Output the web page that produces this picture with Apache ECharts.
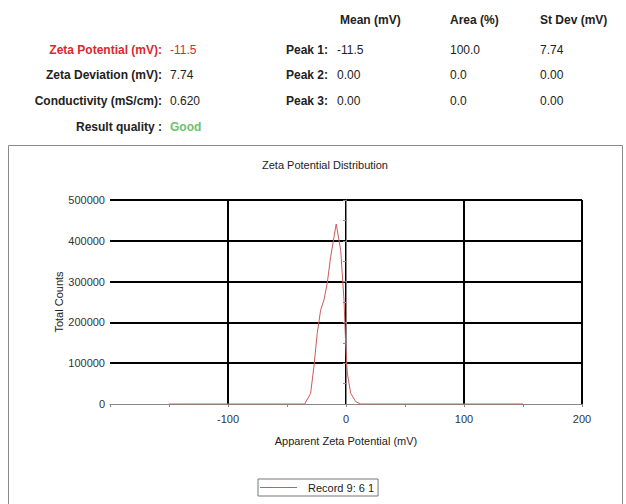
<!DOCTYPE html>
<html>
<head>
<meta charset="utf-8">
<script src="https://cdn.jsdelivr.net/npm/echarts@6/dist/echarts.min.js"></script>
<style>
html,body{margin:0;padding:0;background:#fff;}
#main{width:626px;height:504px;}
</style>
</head>
<body>
<div id="main"></div>
<script>
// Data
const zetaX = [-150, -35, -30, -27.2, -24.4, -21.5, -18.7, -15.9, -13.0, -8.3, -4.5, -1.7, -0.3, 1.1, 4.0, 8.3, 12.5, 150];
const counts = [0, 0, 26000, 91000, 173000, 230000, 255000, 296000, 361000, 441000, 377000, 255000, 149000, 76000, 26000, 5600, 0, 0];
const seriesName = 'Record 9: 6 1';

const headerCols = ['Mean (mV)', 'Area (%)', 'St Dev (mV)'];
const leftLabels = ['Zeta Potential (mV):', 'Zeta Deviation (mV):', 'Conductivity (mS/cm):', 'Result quality :'];
const leftValues = ['-11.5', '7.74', '0.620', 'Good'];
const peakLabels = ['Peak 1:', 'Peak 2:', 'Peak 3:'];
const peakMean = ['-11.5', '0.00', '0.00'];
const peakArea = ['100.0', '0.0', '0.0'];
const peakStd = ['7.74', '0.00', '0.00'];

const FONT = '"Liberation Sans", Arial, sans-serif';
const rowsY = [50, 75, 101, 127];
const g = [];
function txt(x, y, s, opts) {
  g.push({type: 'text', x: x, y: y, style: Object.assign({
    text: s, font: (opts && opts.bold ? 'bold ' : '') + '12px ' + FONT,
    fill: '#222', textAlign: 'left', textVerticalAlign: 'middle'
  }, opts && opts.style || {})});
}
const colX = [340, 450, 540];
headerCols.forEach((s, i) => txt(colX[i], 20, s, {bold: true}));
leftLabels.forEach((s, i) => txt(162, rowsY[i], s, {bold: true, style: {textAlign: 'right', fill: i === 0 ? '#d9282f' : '#222'}}));
leftValues.forEach((s, i) => txt(170, rowsY[i], s, {bold: i === 3, style: {fill: i === 0 ? '#d9282f' : (i === 3 ? '#6cc36a' : '#222')}}));
peakLabels.forEach((s, i) => txt(328, rowsY[i], s, {bold: true, style: {textAlign: 'right'}}));
peakMean.forEach((s, i) => txt(337, rowsY[i], s, {}));
peakArea.forEach((s, i) => txt(450, rowsY[i], s, {}));
peakStd.forEach((s, i) => txt(540, rowsY[i], s, {}));
g.push({type: 'rect', shape: {x: 8.5, y: 145.5, width: 614, height: 380}, style: {fill: null, stroke: '#8a8a8a', lineWidth: 1}, z: -1});

const chart = echarts.init(document.getElementById('main'), null, {renderer: 'svg'});
chart.setOption({
  animation: false,
  backgroundColor: '#fff',
  title: {
    text: 'Zeta Potential Distribution', left: 320, top: 154, textAlign: 'center',
    textStyle: {fontFamily: FONT, fontSize: 11, fontWeight: 'normal', color: '#222'}
  },
  graphic: g,
  grid: {left: 110, right: 44, top: 200, bottom: 100},
  legend: {
    left: 258, top: 479, data: [seriesName],
    borderColor: '#777', borderWidth: 1, padding: [3, 4, 3, 2],
    itemWidth: 37, itemHeight: 1, icon: 'rect',
    textStyle: {fontFamily: FONT, fontSize: 11, color: '#222', padding: [0, 0, 0, 6]}
  },
  xAxis: {
    type: 'value', min: -200, max: 200, interval: 100,
    name: 'Apparent Zeta Potential (mV)', nameLocation: 'middle', nameGap: 31,
    nameTextStyle: {fontFamily: FONT, fontSize: 11, color: '#222'},
    axisLine: {show: true, lineStyle: {color: '#888', width: 1}},
    axisTick: {show: true, length: 3, lineStyle: {color: '#888'}},
    minorTick: {show: true, splitNumber: 2, length: 3, lineStyle: {color: '#888'}},
    axisLabel: {fontFamily: FONT, fontSize: 11, color: '#333', margin: 9, showMinLabel: false},
    splitLine: {show: true, showMinLine: false, lineStyle: {color: '#000', width: 2}}
  },
  yAxis: {
    type: 'value', min: 0, max: 500000, interval: 100000,
    name: 'Total Counts', nameLocation: 'middle', nameGap: 46, nameRotate: 90,
    nameMoveOverlap: false,
    nameTextStyle: {fontFamily: FONT, fontSize: 11, color: '#222'},
    axisLine: {show: true, lineStyle: {color: '#888', width: 1}},
    axisTick: {show: true, length: 3, lineStyle: {color: '#888'}},
    minorTick: {show: true, splitNumber: 2, length: 3, lineStyle: {color: '#888'}},
    axisLabel: {fontFamily: FONT, fontSize: 11, color: '#333', margin: 5, formatter: v => String(v)},
    splitLine: {show: true, showMinLine: false, lineStyle: {color: '#000', width: 2}}
  },
  series: [{
    name: seriesName, type: 'line', showSymbol: false, symbol: 'none',
    data: zetaX.map((x, i) => [x, counts[i]]),
    lineStyle: {color: '#cc5a5a', width: 1},
    itemStyle: {color: '#cc5a5a'},
    z: 3
  }]
});
</script>
</body>
</html>
